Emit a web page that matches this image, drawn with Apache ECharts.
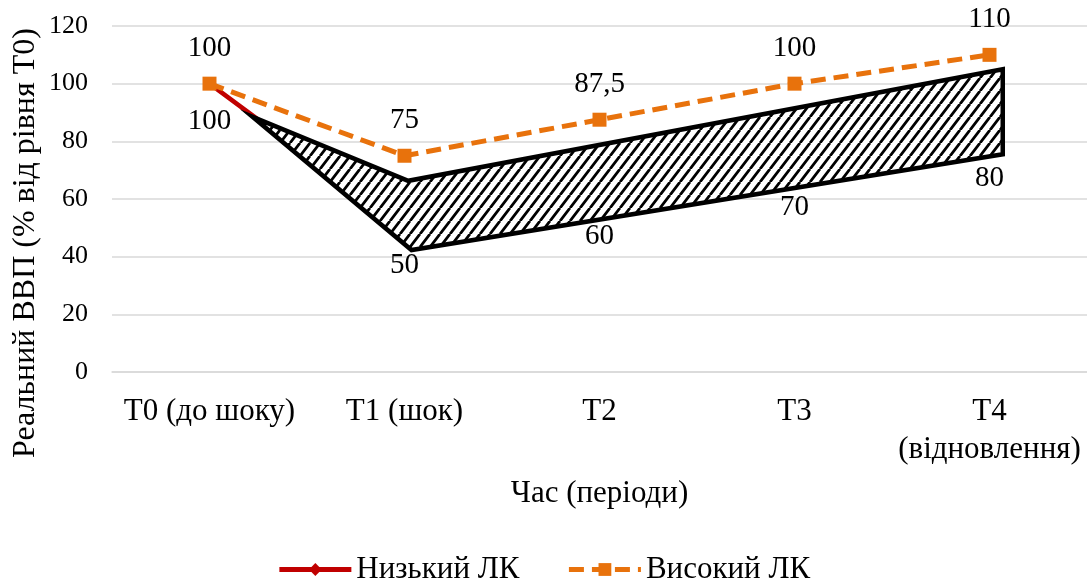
<!DOCTYPE html>
<html>
<head>
<meta charset="utf-8">
<script src="https://cdn.jsdelivr.net/npm/echarts@6/dist/echarts.min.js"></script>
<style>
html,body{margin:0;padding:0;background:#fff;}
#chart{width:1087px;height:585px;}
</style>
</head>
<body>
<div id="chart"></div>
<script>
// ---- data ----
const categories = ['T0 (до шоку)', 'T1 (шок)', 'T2', 'T3', 'T4\n(відновлення)'];
const lowLC = [100, 50, 60, 70, 80];          // Низький ЛК
const highLC = [100, 75, 87.5, 100, 110];     // Високий ЛК
const seriesNames = ['Низький ЛК', 'Високий ЛК'];
const yTicks = [0, 20, 40, 60, 80, 100, 120];
const yTitle = 'Реальний ВВП (% від рівня Т0)';
const xTitle = 'Час (періоди)';
// hatched annotation polygon, vertices in data space [category position, value]
const hatchPolygon = [[0.221, 88.5], [1.019, 66.3], [4.068, 105.0], [4.068, 75.5], [1.036, 42.3]];

const FONT = "'Liberation Serif', 'Times New Roman', serif";

function makeHatch() {
  const w = 10, h = 13;
  const c = document.createElement('canvas');
  c.width = w; c.height = h;
  const g = c.getContext('2d');
  g.fillStyle = '#fff';
  g.fillRect(0, 0, w, h);
  g.strokeStyle = '#000';
  g.lineWidth = 2.8;
  g.beginPath();
  for (const k of [-w, 0, w]) {
    g.moveTo(k, h);
    g.lineTo(k + w, 0);
  }
  g.stroke();
  return c;
}
const hatchCanvas = makeHatch();

const chart = echarts.init(document.getElementById('chart'), null, {renderer: 'canvas'});
const fmt = p => String(p.value).replace('.', ',');

const option = {
  backgroundColor: '#fff',
  animation: false,
  grid: {left: 112, right: -6, top: 26, bottom: 213, containLabel: false},
  graphic: [{
    type: 'text',
    x: 26, y: 243,
    rotation: Math.PI / 2,
    style: {text: yTitle, fontFamily: FONT, fontSize: 32, fill: '#000', align: 'center', verticalAlign: 'middle'}
  }],
  legend: {
    data: seriesNames,
    top: 549,
    left: 'center',
    itemWidth: 72,
    itemHeight: 16,
    itemGap: 47,
    lineStyle: {width: 5},
    textStyle: {fontFamily: FONT, fontSize: 31, color: '#000'}
  },
  xAxis: [{
    type: 'category',
    data: categories,
    boundaryGap: true,
    axisLine: {show: true, lineStyle: {color: '#d9d9d9', width: 1.5}},
    axisTick: {show: false},
    axisLabel: {fontFamily: FONT, fontSize: 31, color: '#000', margin: 21, lineHeight: 38, interval: 0},
    name: xTitle,
    nameLocation: 'middle',
    nameGap: 106,
    nameTextStyle: {fontFamily: FONT, fontSize: 31, color: '#000'}
  }, {
    type: 'value',
    min: -0.5, max: 4.5,
    show: false
  }],
  yAxis: {
    type: 'value',
    min: 0, max: 120, interval: 20,
    axisLine: {show: false},
    axisTick: {show: false},
    splitLine: {lineStyle: {color: '#d9d9d9', width: 1.5}},
    axisLabel: {fontFamily: FONT, fontSize: 26, color: '#000', margin: 24,
      formatter: v => yTicks.includes(v) ? String(v) : ''}
  },
  series: [{
    name: seriesNames[0],
    type: 'line',
    data: lowLC,
    z: 2,
    symbol: 'diamond',
    symbolSize: 12,
    lineStyle: {color: '#C00000', width: 4.5},
    itemStyle: {color: '#C00000'},
    label: {show: true, position: 'bottom', distance: 17, fontFamily: FONT, fontSize: 29, color: '#000', formatter: fmt}
  }, {
    name: 'hatch',
    type: 'custom',
    xAxisIndex: 1,
    z: 3,
    silent: true,
    data: [0],
    renderItem: function (params, api) {
      const pts = hatchPolygon.map(p => api.coord(p));
      return {
        type: 'polygon',
        shape: {points: pts},
        style: {
          fill: {image: hatchCanvas, repeat: 'repeat'},
          stroke: '#000',
          lineWidth: 4.5,
          lineJoin: 'miter'
        }
      };
    }
  }, {
    name: seriesNames[1],
    type: 'line',
    data: highLC,
    z: 4,
    symbol: 'rect',
    symbolSize: 14,
    lineStyle: {color: '#E8720C', width: 5, type: [15, 8]},
    itemStyle: {color: '#E8720C'},
    label: {show: true, position: 'top', distance: 14, fontFamily: FONT, fontSize: 29, color: '#000', formatter: fmt}
  }]
};
chart.setOption(option);
</script>
</body>
</html>
